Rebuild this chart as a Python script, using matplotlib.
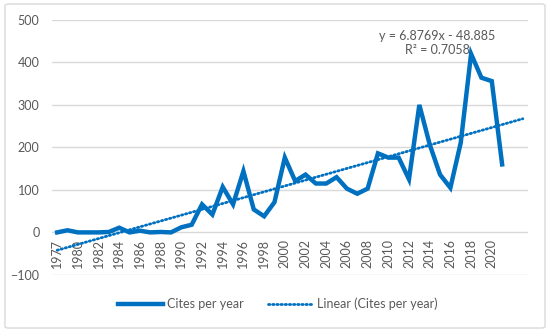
import matplotlib.pyplot as plt
from matplotlib.patches import FancyBboxPatch
from matplotlib.lines import Line2D
import numpy as np

plt.rcParams['font.family'] = ['Lato', 'DejaVu Sans']

# --- DATA ---
years = ['1977', '1978', '1980', '1981', '1982', '1983', '1984', '1985', '1986',
         '1987', '1988', '1989', '1990', '1991', '1992', '1993', '1994', '1995',
         '1996', '1997', '1998', '1999', '2000', '2001', '2002', '2003', '2004',
         '2005', '2006', '2007', '2008', '2009', '2010', '2011', '2012', '2013',
         '2014', '2015', '2016', '2017', '2018', '2019', '2020', '2021']
cites = [0, 5, 0, 0, 0, 1, 11, 0, 4, 0, 1, 0, 12, 18, 66, 42, 107, 66, 144,
         54, 38, 71, 176, 121, 136, 115, 115, 130, 103, 91, 103, 186, 176, 176,
         125, 300, 207, 136, 105, 211, 420, 364, 356, 160]
trend_slope = 6.8769
trend_intercept = -48.885
forecast_periods = 2
y_ticks = [-100, 0, 100, 200, 300, 400, 500]

blue = '#0070C0'
gray = '#595959'
grid = '#D9D9D9'

fig = plt.figure(figsize=(5.5, 3.32), dpi=100)
ax = fig.add_axes([0.0945, 0.172, 0.8655, 0.768])

# chart border
fig.patches.append(FancyBboxPatch((0.009, 0.012), 0.982, 0.976,
                                  boxstyle='round,pad=0,rounding_size=0.006',
                                  transform=fig.transFigure, fill=False,
                                  edgecolor=grid, linewidth=1))

x = np.arange(1, len(cites) + 1)
ax.plot(x, cites, color=blue, linewidth=3.2, solid_joinstyle='miter', zorder=3)

xt = np.arange(1, len(cites) + forecast_periods + 1)
ax.plot(xt, trend_slope * xt + trend_intercept, color=blue, linewidth=2,
        linestyle=(0, (0.5, 1.0)), dash_capstyle='round', zorder=2)

ax.set_xlim(0.5, len(cites) + forecast_periods + 0.5)
ax.set_ylim(-100, 500)
ax.set_yticks(y_ticks)
ax.yaxis.grid(True, color=grid, linewidth=1)
ax.set_axisbelow(True)

for s in ['top', 'right', 'left']:
    ax.spines[s].set_visible(False)
ax.spines['bottom'].set_position(('data', 0))
ax.spines['bottom'].set_visible(False)

ax.set_xticks(x[::2])
ax.set_xticklabels(years[::2], rotation=90)
ax.tick_params(axis='x', length=0, pad=5, labelsize=9, labelcolor=gray)
ax.tick_params(axis='y', length=0, pad=9, labelsize=9, labelcolor=gray)

ax.text(0.81, 0.962, 'y = 6.8769x - 48.885\nR² = 0.7058', transform=ax.transAxes,
        ha='center', va='top', fontsize=9, color=gray, linespacing=1.2)

handles = [Line2D([], [], color=blue, linewidth=3.2),
           Line2D([], [], color=blue, linewidth=2, linestyle=(0, (0.5, 1.0)),
                  dash_capstyle='round')]
fig.legend(handles, ['Cites per year', 'Linear (Cites per year)'],
           loc='center', bbox_to_anchor=(0.505, 0.084), ncol=2, frameon=False,
           fontsize=9, labelcolor=gray, handlelength=3.6, handletextpad=0.3,
           columnspacing=2.0)

fig.savefig('out.png', dpi=100)
